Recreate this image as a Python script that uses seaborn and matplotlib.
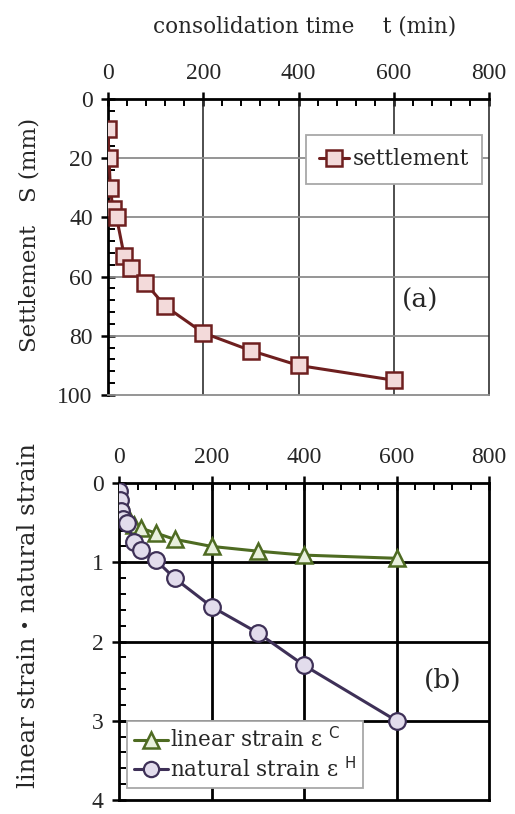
import matplotlib
matplotlib.use("Agg")
import matplotlib.pyplot as plt
from matplotlib.ticker import MultipleLocator
from matplotlib.lines import Line2D
import seaborn as sns
import pandas as pd

# ---- data ----
time_a = [0, 2, 5, 10, 18, 34, 48, 78, 120, 200, 300, 400, 600]
settlement = [10, 20, 30, 37, 40, 53, 57, 62, 70, 79, 85, 90, 95]

time_b = [0, 3, 5, 9, 18, 32, 47, 79, 120, 200, 300, 400, 600]
linear_strain = [0.10, 0.20, 0.30, 0.37, 0.40, 0.53, 0.57, 0.63, 0.71, 0.80, 0.86, 0.91, 0.95]
natural_strain = [0.10, 0.21, 0.35, 0.45, 0.50, 0.75, 0.84, 0.97, 1.20, 1.56, 1.89, 2.30, 3.00]

x_ticks = [0, 200, 400, 600, 800]
y_ticks_a = [0, 20, 40, 60, 80, 100]
y_ticks_b = [0, 1, 2, 3, 4]

sns.set_theme(style="white")
SERIF = ["DejaVu Serif", "Noto Sans CJK JP"]
TICKFONT = ["Liberation Serif", "DejaVu Serif"]
plt.rcParams["font.family"] = SERIF
plt.rcParams["mathtext.fontset"] = "dejavusans"

fig = plt.figure(figsize=(5.15, 8.14), dpi=100)
W, H = 515, 814

def axes_px(l, t, r, b):
    return fig.add_axes([l / W, 1 - b / H, (r - l) / W, (b - t) / H])

ax1 = axes_px(108, 99, 489, 395)
ax2 = axes_px(119, 483, 489, 800)

TICK_FS = 17
FS = 15.5

def style_ticks(ax, yt):
    ax.xaxis.tick_top()
    ax.set_xticks(x_ticks, labels=[str(v) for v in x_ticks],
                  fontfamily=TICKFONT, fontsize=TICK_FS)
    ax.set_yticks(yt, labels=[str(v) for v in yt],
                  fontfamily=TICKFONT, fontsize=TICK_FS)
    ax.tick_params(which="major", direction="inout", length=10, width=1.8, color="black",
                   pad=6)
    ax.tick_params(which="minor", direction="in", length=5, width=1.4, color="black")
    ax.tick_params(axis="x", which="both", top=True, bottom=False,
                   labeltop=True, labelbottom=False)
    ax.tick_params(axis="y", which="both", left=True, right=False)

# ---- top panel ----
df_a = pd.DataFrame({"t": time_a, "S": settlement})
sns.lineplot(data=df_a, x="t", y="S", ax=ax1, color="#6E1F1F", lw=2.2,
             marker="s", markersize=11, markerfacecolor="#F3DADA",
             markeredgecolor="#6E1F1F", markeredgewidth=1.8, zorder=5,
             label="settlement", sort=False)
ax1.set_xlim(0, 800)
ax1.set_ylim(100, 0)
ax1.set_xlabel("")
ax1.set_ylabel("")
style_ticks(ax1, y_ticks_a)
ax1.xaxis.set_minor_locator(MultipleLocator(40))
ax1.yaxis.set_minor_locator(MultipleLocator(4))
ax1.grid(False)
for v in [200, 400, 600]:
    ax1.axvline(v, color="#303030", lw=1.2, zorder=1)
for v in [20, 40, 60, 80]:
    ax1.axhline(v, color="#8C8C8C", lw=1.3, zorder=1)
ax1.spines["left"].set(color="black", lw=2)
ax1.spines["top"].set(color="black", lw=2)
ax1.spines["right"].set(color="#303030", lw=1.2)
ax1.spines["bottom"].set(color="#8C8C8C", lw=1.3)
leg1 = ax1.legend(loc="upper right", bbox_to_anchor=(0.982, 0.878), borderaxespad=0,
                  frameon=True, fancybox=False, edgecolor="#A8A8A8", framealpha=1,
                  handlelength=1.4, handletextpad=0.15, borderpad=0.62,
                  prop={"family": SERIF, "size": FS})
leg1.get_frame().set_linewidth(1.3)
ax1.text(0.82, 0.32, "(a)", transform=ax1.transAxes, ha="center", va="center",
         fontsize=19, family=SERIF)

# ---- bottom panel ----
df_b = pd.DataFrame({"t": time_b, "lin": linear_strain, "nat": natural_strain})
sns.lineplot(data=df_b, x="t", y="lin", ax=ax2, color="#4E6B22", lw=2.2,
             marker="^", markersize=12, markerfacecolor="#E8F0DC",
             markeredgecolor="#4E6B22", markeredgewidth=1.8, zorder=5, sort=False)
sns.lineplot(data=df_b, x="t", y="nat", ax=ax2, color="#3E3057", lw=2.2,
             marker="o", markersize=12, markerfacecolor="#E2DCEC",
             markeredgecolor="#3E3057", markeredgewidth=1.6, zorder=6, sort=False)
ax2.set_xlim(0, 800)
ax2.set_ylim(4, 0)
ax2.set_xlabel("")
ax2.set_ylabel("")
style_ticks(ax2, y_ticks_b)
ax2.xaxis.set_minor_locator(MultipleLocator(40))
ax2.yaxis.set_minor_locator(MultipleLocator(0.2))
ax2.grid(False)
for v in [200, 400, 600]:
    ax2.axvline(v, color="black", lw=2, zorder=1)
for v in [1, 2, 3]:
    ax2.axhline(v, color="black", lw=2, zorder=1)
for s in ax2.spines.values():
    s.set(color="black", lw=2)
handles = [
    Line2D([], [], color="#4E6B22", lw=2.2, marker="^", markersize=11,
           markerfacecolor="#E8F0DC", markeredgecolor="#4E6B22", markeredgewidth=1.8),
    Line2D([], [], color="#3E3057", lw=2.2, marker="o", markersize=11,
           markerfacecolor="#E2DCEC", markeredgecolor="#3E3057", markeredgewidth=1.6),
]
labels = [r"linear strain ε $^{\mathsf{C}}$", r"natural strain ε $^{\mathsf{H}}$"]
leg2 = ax2.legend(handles, labels, loc="lower left", bbox_to_anchor=(0.022, 0.037),
                  borderaxespad=0, frameon=True, fancybox=False, edgecolor="#A8A8A8",
                  framealpha=1, handlelength=1.6, handletextpad=0.1, borderpad=0.3,
                  labelspacing=0.2, prop={"family": SERIF, "size": FS})
leg2.get_frame().set_linewidth(1.3)
ax2.text(0.875, 0.378, "(b)", transform=ax2.transAxes, ha="center", va="center",
         fontsize=19, family=SERIF)

# ---- axis titles ----
fig.text(305 / W, 1 - 27 / H, "consolidation time\u3000 t (min)", ha="center", va="center",
         fontsize=FS, family=SERIF)
fig.text(30 / W, 1 - 235 / H, "Settlement\u3000S (mm)", ha="center", va="center",
         rotation=90, fontsize=16.5, family=SERIF)
fig.text(29 / W, 1 - 615 / H, "linear strain\u30fbnatural strain", ha="center", va="center",
         rotation=90, fontsize=17.5, family=SERIF)

fig.savefig("out.png", dpi=100)
